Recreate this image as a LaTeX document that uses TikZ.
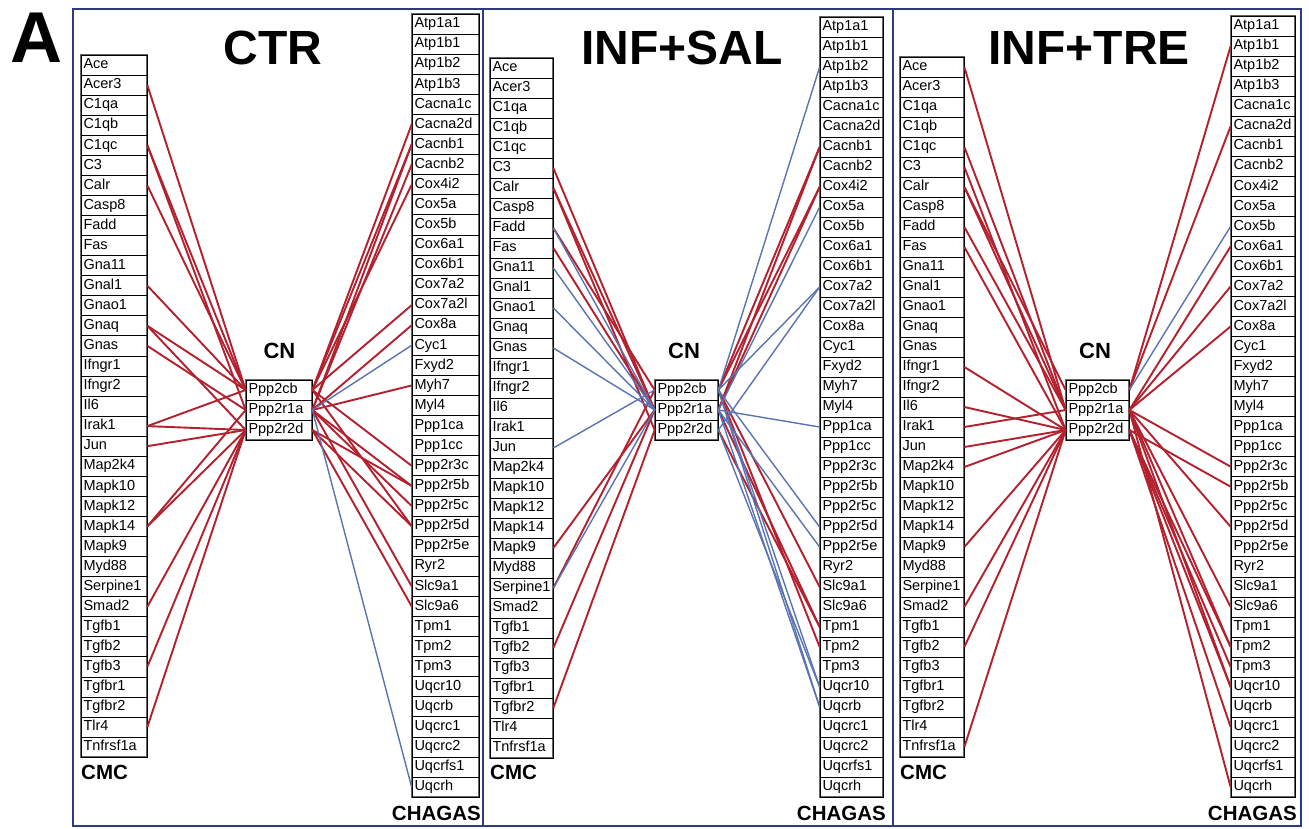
\documentclass[tikz,border=0pt]{standalone}
\usepackage{fontspec}
\setmainfont{Liberation Sans}
\definecolor{edgered}{HTML}{B3202E}
\definecolor{edgeblue}{HTML}{5A74B2}
\definecolor{panelnavy}{HTML}{2E3B7C}
\tikzset{
  cell/.style={draw=black, line width=0.7pt, inner xsep=2.5pt, inner ysep=0pt,
    text height=10.5pt, text depth=3pt, align=left,
    font=\fontsize{14.5}{15}\selectfont},
  colframe/.style={draw=black!60, line width=1.8pt},
  panelbox/.style={draw=panelnavy, line width=2.8pt},
  redE/.style={draw=edgered, line width=1.9pt},
  blueE/.style={draw=edgeblue, line width=1.4pt},
  ttl/.style={font=\fontsize{48}{50}\selectfont\bfseries, inner sep=0pt},
  lbl/.style={font=\fontsize{20.5}{22}\selectfont\bfseries, inner sep=0pt},
  cnl/.style={font=\fontsize{22}{24}\selectfont\bfseries, inner sep=0pt},
  biglbl/.style={font=\fontsize{72}{74}\selectfont\bfseries, inner sep=0pt}
}
% #1 prefix, #2 x centre, #3 y top, #4 width, #5 row height, #6 rows, #7 list
\newcommand\GeneCol[7]{%
  \pgfmathsetmacro\GCtw{#4-5}%
  \draw[colframe] ({#2-#4/2},{#3}) rectangle ({#2+#4/2},{#3+#6*#5});
  \foreach \g [count=\i] in {#7} {%
    \node[cell, minimum width=#4pt, text width=\GCtw pt, minimum height=#5pt]
      (#1\g) at ({#2},{#3+(\i-0.5)*#5}) {\g};
  }%
}
\newcommand\CenterCol[4]{% #1 prefix, #2 x centre, #3 width, #4 y top
  \pgfmathsetmacro\GCtw{#3-5}%
  \draw[colframe] ({#2-#3/2},{#4}) rectangle ({#2+#3/2},{#4+60});
  \foreach \g [count=\i] in {Ppp2cb,Ppp2r1a,Ppp2r2d} {%
    \node[cell, minimum width=#3pt, text width=\GCtw pt, minimum height=20pt]
      (#1\i) at ({#2},{#4+(\i-0.5)*20}) {\g};
  }%
}
\newcommand\LeftList{Ace,Acer3,C1qa,C1qb,C1qc,C3,Calr,Casp8,Fadd,Fas,Gna11,Gnal1,Gnao1,Gnaq,Gnas,Ifngr1,Ifngr2,Il6,Irak1,Jun,Map2k4,Mapk10,Mapk12,Mapk14,Mapk9,Myd88,Serpine1,Smad2,Tgfb1,Tgfb2,Tgfb3,Tgfbr1,Tgfbr2,Tlr4,Tnfrsf1a}
\newcommand\RightList{Atp1a1,Atp1b1,Atp1b2,Atp1b3,Cacna1c,Cacna2d,Cacnb1,Cacnb2,Cox4i2,Cox5a,Cox5b,Cox6a1,Cox6b1,Cox7a2,Cox7a2l,Cox8a,Cyc1,Fxyd2,Myh7,Myl4,Ppp1ca,Ppp1cc,Ppp2r3c,Ppp2r5b,Ppp2r5c,Ppp2r5d,Ppp2r5e,Ryr2,Slc9a1,Slc9a6,Tpm1,Tpm2,Tpm3,Uqcr10,Uqcrb,Uqcrc1,Uqcrc2,Uqcrfs1,Uqcrh}
\begin{document}
\begin{tikzpicture}[x=1pt,y=-1pt]
\useasboundingbox (0,0) rectangle (1309,828);
\fill[white] (0,0) rectangle (1309,828);

% panels
\draw[panelbox] (73,9) rectangle (483,826);
\draw[panelbox] (483,9) rectangle (893,826);
\draw[panelbox] (893,9) rectangle (1301,826);

\node[biglbl] (bigA) at (36,38) {A};
\node[ttl] (t1) at (273,48) {CTR};
\node[ttl] (t2) at (682,48) {INF+SAL};
\node[ttl] (t3) at (1089,48) {INF+TRE};

% columns (expanded lists)
\edef\tmp{\noexpand\GeneCol{1L}{114}{55}{66}{20.06}{35}{\LeftList}}\tmp
\edef\tmp{\noexpand\GeneCol{2L}{521.5}{58}{63}{20}{35}{\LeftList}}\tmp
\edef\tmp{\noexpand\GeneCol{3L}{932}{57}{64}{20}{35}{\LeftList}}\tmp
\edef\tmp{\noexpand\GeneCol{1R}{445.5}{14}{67}{20.08}{39}{\RightList}}\tmp
\edef\tmp{\noexpand\GeneCol{2R}{851.5}{17}{63}{20}{39}{\RightList}}\tmp
\edef\tmp{\noexpand\GeneCol{3R}{1263}{16}{64}{20.03}{39}{\RightList}}\tmp

\CenterCol{1C}{279}{66}{380}
\CenterCol{2C}{686.5}{63}{380}
\CenterCol{3C}{1097.5}{63}{380}

\node[cnl] (cn1) at (279.5,351) {CN};
\node[cnl] (cn2) at (684,351) {CN};
\node[cnl] (cn3) at (1095,351) {CN};

\node[lbl, anchor=west] (cmc1) at (81,772) {CMC};
\node[lbl, anchor=west] (cmc2) at (490,772) {CMC};
\node[lbl, anchor=west] (cmc3) at (900,772) {CMC};
\node[lbl, anchor=east] (ch1) at (481,813) {CHAGAS};
\node[lbl, anchor=east] (ch2) at (886,813) {CHAGAS};
\node[lbl, anchor=east] (ch3) at (1297,813) {CHAGAS};

% ---- CTR edges
\foreach \a/\b in {Acer3/1,C1qc/1,C1qc/2,Calr/1,Gnal1/1,Gnaq/1,Gnaq/3,Gnas/2,Irak1/1,Irak1/3,Jun/3,Mapk14/2,Mapk14/3,Smad2/3,Tgfb3/3,Tlr4/3}
  \draw[redE] (1L\a.east) -- (1C\b.west);
\foreach \a/\b in {Cacna2d/1,Cacnb1/1,Cacnb1/2,Cacnb2/2,Cox4i2/1,Cox7a2l/1,Cox8a/2,Myh7/2,Ppp2r3c/1,Ppp2r5b/2,Ppp2r5b/3,Ppp2r5c/2,Ppp2r5d/1,Ppp2r5d/3,Slc9a1/2,Slc9a6/3}
  \draw[redE] (1R\a.west) -- (1C\b.east);
\foreach \a/\b in {Cyc1/2,Uqcrh/2}
  \draw[blueE] (1R\a.west) -- (1C\b.east);

% ---- INF+SAL edges
\foreach \a/\b in {C3/2,Calr/2,Calr/3,Fadd/1,Fas/2,Mapk9/2,Serpine1/1,Tgfb2/2,Tgfbr2/3}
  \draw[redE] (2L\a.east) -- (2C\b.west);
\foreach \a/\b in {Fadd/2,Gna11/2,Gnao1/2,Gnas/2,Jun/1,Serpine1/2}
  \draw[blueE] (2L\a.east) -- (2C\b.west);
\foreach \a/\b in {Cacnb1/1,Cacnb1/2,Cox4i2/1,Cox4i2/2,Slc9a1/1,Tpm1/2,Tpm1/3,Tpm2/1}
  \draw[redE] (2R\a.west) -- (2C\b.east);
\foreach \a/\b in {Atp1b2/1,Cox5a/2,Cox7a2/1,Cox7a2/3,Ppp1ca/2,Ppp2r5d/1,Ppp2r5e/2,Uqcr10/1,Uqcr10/3,Uqcrb/2,Uqcrb/1}
  \draw[blueE] (2R\a.west) -- (2C\b.east);

% ---- INF+TRE edges
\foreach \a/\b in {Ace/2,C1qc/2,C3/3,Calr/1,Calr/2,Fadd/2,Fas/3,Ifngr1/3,Il6/3,Irak1/2,Jun/3,Map2k4/3,Mapk9/3,Smad2/3,Tgfb2/3,Tnfrsf1a/3}
  \draw[redE] (3L\a.east) -- (3C\b.west);
\foreach \a/\b in {Atp1b1/1,Cacna2d/1,Cox6a1/2,Cox7a2/2,Cox8a/2,Ppp2r3c/2,Ppp2r5b/3,Ppp2r5d/2,Slc9a6/2,Tpm2/2,Tpm2/3,Tpm3/3,Uqcr10/2,Uqcr10/3,Uqcrc1/3,Uqcrh/2}
  \draw[redE] (3R\a.west) -- (3C\b.east);
\foreach \a/\b in {Cox5b/1}
  \draw[blueE] (3R\a.west) -- (3C\b.east);
\end{tikzpicture}
\end{document}
